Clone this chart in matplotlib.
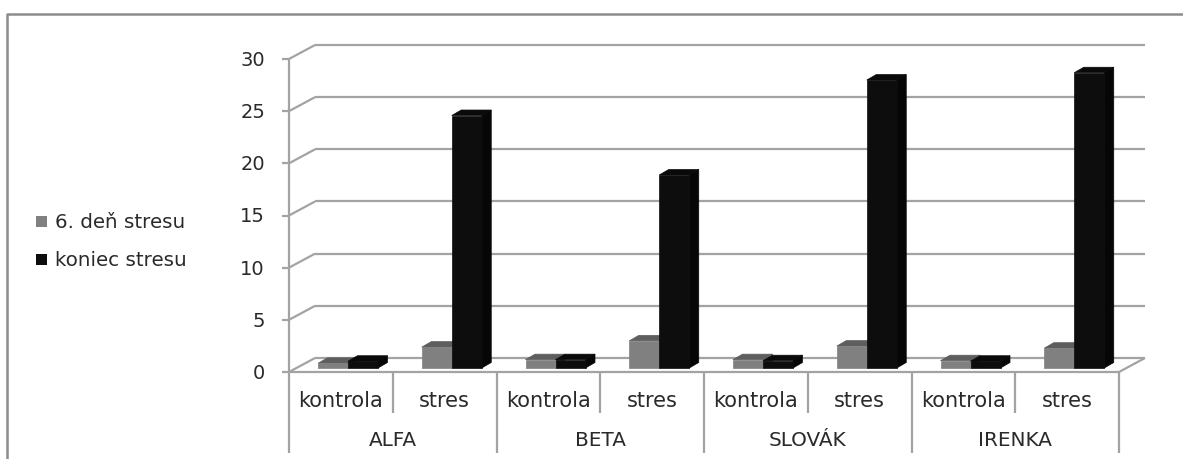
#!/usr/bin/env python3
"""Excel-style pseudo-3D clustered columns, drawn on a flat axes."""

import matplotlib
matplotlib.use("Agg")
import matplotlib.pyplot as plt
from matplotlib.patches import Polygon

W, H = 1183, 459

groups = ["ALFA", "BETA", "SLOVÁK", "IRENKA"]
categories = ["kontrola", "stres"]
series_names = ["6. deň stresu", "koniec stresu"]
den6 = [0.45, 2.0, 0.8, 2.6, 0.8, 2.1, 0.7, 1.9]
koniec = [0.65, 24.2, 0.8, 18.5, 0.7, 27.6, 0.65, 28.3]
y_ticks = [0, 5, 10, 15, 20, 25, 30]

GRID = "#a3a3a3"
TXT = "#2a2a2a"
FACES = {"gray": ("#808080", "#5e5e5e", "#666666"),
         "black": ("#0d0d0d", "#0a0a0a", "#060606")}

plt.rcParams["font.family"] = ["DejaVu Sans"]

fig = plt.figure(figsize=(W / 100, H / 100), dpi=100)
fig.patch.set_facecolor("white")

# axes = the front plane of the fake 3D box
L, R, Y0, Y30 = 289, 1119, 372, 59
ax = fig.add_axes([L / W, 1 - Y0 / H, (R - L) / W, (Y0 - Y30) / H])
ax.set_xlim(0, 8)
ax.set_ylim(0, 30)
ax.axis("off")

px = 8 / (R - L)         # x units per pixel
py = 30 / (Y0 - Y30)     # y units per pixel
BACK_X, BACK_Y = 26 * px, 14 * py
BASE_X, BASE_Y = 6.5 * px, 4 * py
BAR_X, BAR_Y = 9.5 * px, 5.5 * py
BAR_W = 30 * px


def line(xs, ys, lw=1.6):
    ax.plot(xs, ys, color=GRID, lw=lw, clip_on=False, solid_capstyle="butt", zorder=1)


# back wall and its ticks
for t in y_ticks:
    line([0, BACK_X], [t, t + BACK_Y])
    line([BACK_X, 8 + BACK_X], [t + BACK_Y, t + BACK_Y])
    line([-7 * px, 0], [t, t])
    ax.text(-24 * px, t - 1.5 * py, str(t), ha="right", va="center", fontsize=14, color=TXT)
line([0, 0], [0, 30])
line([8, 8 + BACK_X], [0, BACK_Y])
line([0, 8], [0, 0])

# two-level category axis
LOW1, LOW2 = -41 * py, -81 * py
for i in range(9):
    line([i, i], [0, LOW2 if i % 2 == 0 else LOW1])
for i in range(8):
    ax.text(i + 0.5, -29 * py, categories[i % 2], ha="center", va="center",
            fontsize=15, color=TXT)
for i, g in enumerate(groups):
    ax.text(2 * i + 1, -69 * py, g, ha="center", va="center", fontsize=14.4, color=TXT)


def column(x, val, faces):
    x0, x1 = x + BASE_X, x + BASE_X + BAR_W
    y0, y1 = BASE_Y, BASE_Y + val
    front, top, side = faces
    ax.add_patch(Polygon([(x1, y0), (x1 + BAR_X, y0 + BAR_Y), (x1 + BAR_X, y1 + BAR_Y), (x1, y1)],
                         fc=side, ec=side, lw=0.5, zorder=3, clip_on=False))
    ax.add_patch(Polygon([(x0, y1), (x1, y1), (x1 + BAR_X, y1 + BAR_Y), (x0 + BAR_X, y1 + BAR_Y)],
                         fc=top, ec=top, lw=0.5, zorder=3, clip_on=False))
    ax.bar(x0, val, BAR_W, bottom=y0, align="edge", color=front, ec=front, lw=0.5,
           zorder=3, clip_on=False)


for i in range(8):
    x = i + 29 * px - BASE_X
    column(x, den6[i], FACES["gray"])
    column(x + BAR_W, koniec[i], FACES["black"])

# legend, placed by hand like the original
for name, col, ypos in zip(series_names, ["#808080", "#0d0d0d"], [222, 260]):
    fig.patches.append(plt.Rectangle((36 / W, 1 - (ypos + 5) / H), 11 / W, 11 / H,
                                     transform=fig.transFigure, fc=col, ec="none"))
    fig.text(55 / W, 1 - ypos / H, name, ha="left", va="center", fontsize=14.3, color=TXT)

# outer chart frame: left and top only, runs off the picture
fig.add_artist(plt.Line2D([7 / W, 7 / W, 1], [0, 1 - 14 / H, 1 - 14 / H],
                          color="#8c8c8c", lw=1.8))

fig.savefig("out.png", dpi=100)
